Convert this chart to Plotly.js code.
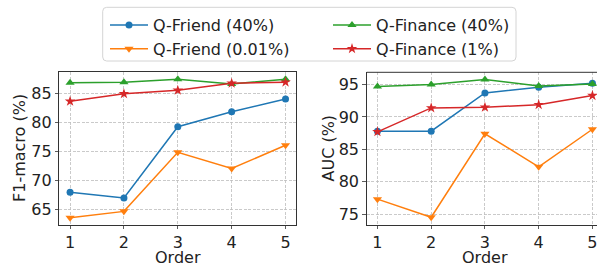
<!DOCTYPE html>
<html>
<head>
<meta charset="utf-8">
<script src="https://cdn.plot.ly/plotly-3.0.1.min.js"></script>
<style>html,body{margin:0;padding:0;background:#fff;}#chart{width:597px;height:263px;}</style>
</head>
<body>
<div id="chart"></div>
<script>
// ---- data ----
const orders = [1, 2, 3, 4, 5];
const seriesNames = ["Q-Friend (40%)", "Q-Friend (0.01%)", "Q-Finance (40%)", "Q-Finance (1%)"];
const f1Friend40 = [67.9, 66.9, 79.2, 81.8, 84.0];
const f1Friend001 = [63.5, 64.6, 74.8, 72.0, 76.0];
const f1Finance40 = [86.8, 86.9, 87.4, 86.6, 87.4];
const f1Finance1 = [83.6, 84.9, 85.5, 86.7, 86.9];
const aucFriend40 = [87.8, 87.8, 93.7, 94.6, 95.2];
const aucFriend001 = [77.3, 74.5, 87.4, 82.3, 88.1];
const aucFinance40 = [94.7, 95.0, 95.8, 94.8, 95.1];
const aucFinance1 = [87.7, 91.4, 91.5, 91.9, 93.3];
const xTicks = [1, 2, 3, 4, 5];
const f1Ticks = [65, 70, 75, 80, 85];
const aucTicks = [75, 80, 85, 90, 95];
const xTitle = "Order";
const f1Title = "F1-macro (%)";
const aucTitle = "AUC (%)";

// ---- styling ----
const W = 597, H = 263;
const colors = ["#1f77b4", "#ff7f0e", "#2ca02c", "#d62728"];
const symbols = ["circle", "triangle-down", "triangle-up", "star"];
const msizes = [7, 8, 8, 8];
const ranks = [1, 3, 2, 4];
const font = "DejaVu Sans, sans-serif";

const f1Data = [f1Friend40, f1Friend001, f1Finance40, f1Finance1];
const aucData = [aucFriend40, aucFriend001, aucFinance40, aucFinance1];

const traces = [];
seriesNames.forEach((name, i) => {
  const common = {
    mode: "lines+markers", name: name, legendgroup: name, legendrank: ranks[i],
    line: {color: colors[i], width: 1.5},
    marker: {color: colors[i], symbol: symbols[i], size: msizes[i], line: {width: 0}},
    cliponaxis: false
  };
  traces.push(Object.assign({x: orders, y: f1Data[i], xaxis: "x", yaxis: "y", showlegend: true}, common));
  traces.push(Object.assign({x: orders, y: aucData[i], xaxis: "x2", yaxis: "y2", showlegend: false}, common));
});

const px = v => v / W;
const py = v => 1 - v / H;

const axBase = {
  showgrid: true, gridcolor: "#bdbdbd", griddash: "3px,1.5px", gridwidth: 0.8,
  showline: true, linecolor: "#333333", linewidth: 1,
  ticks: "outside", ticklen: 3.5, tickwidth: 0.8, tickcolor: "#333333",
  tickfont: {family: font, size: 16, color: "#222"},
  zeroline: false, tickmode: "array", ticklabeloverflow: "allow"
};
const tfont = {family: font, size: 16, color: "#222"};
const yDom = [py(224.7), py(72.3)];
const yMid = (yDom[0] + yDom[1]) / 2;

const titleAnn = (text, x, y, angle, yanchor) => ({
  text: text, xref: "paper", yref: "paper", x: x, y: y, xanchor: "center", yanchor: yanchor,
  textangle: angle, showarrow: false, font: tfont
});

const layout = {
  width: W, height: H,
  margin: {l: 0, r: 0, t: 0, b: 0},
  paper_bgcolor: "#fff", plot_bgcolor: "#fff",
  font: {family: font, size: 16, color: "#222"},
  showlegend: true,
  xaxis: Object.assign({}, axBase, {domain: [px(59.3), px(296.3)], range: [0.8, 5.2], tickvals: xTicks, mirror: true, anchor: "y"}),
  yaxis: Object.assign({}, axBase, {domain: yDom, range: [62.3, 88.6], tickvals: f1Ticks, mirror: true, anchor: "x"}),
  xaxis2: Object.assign({}, axBase, {domain: [px(366.7), 1], range: [0.8, 5.085], tickvals: xTicks, anchor: "y2"}),
  yaxis2: Object.assign({}, axBase, {domain: yDom, range: [73.35, 96.9], tickvals: aucTicks, anchor: "x2"}),
  annotations: [
    titleAnn(xTitle, px(178), py(246), 0, "top"),
    titleAnn(xTitle, px(485.5), py(246), 0, "top"),
    Object.assign(titleAnn(f1Title, px(19.5), yMid, -90, "middle"), {}),
    Object.assign(titleAnn(aucTitle, px(328), yMid, -90, "middle"), {})
  ],
  legend: {
    orientation: "h", x: px(105), y: py(8), xanchor: "left", yanchor: "top",
    bgcolor: "rgba(0,0,0,0)", borderwidth: 0,
    itemwidth: 38,
    entrywidth: 170, entrywidthmode: "pixels",
    font: {family: font, size: 16, color: "#222"},
    traceorder: "normal"
  },
  shapes: [
    {type: "line", xref: "paper", yref: "paper", x0: px(366.7), x1: 1.01, y0: yDom[1], y1: yDom[1],
     line: {color: "#333333", width: 1}},
    (function () {
      const x0 = px(102.7), x1 = px(516), y0 = py(61), y1 = py(7.3), rx = 4 / W, ry = 4 / H;
      const p = `M ${x0 + rx} ${y1} L ${x1 - rx} ${y1} Q ${x1} ${y1} ${x1} ${y1 - ry} L ${x1} ${y0 + ry} Q ${x1} ${y0} ${x1 - rx} ${y0} L ${x0 + rx} ${y0} Q ${x0} ${y0} ${x0} ${y0 + ry} L ${x0} ${y1 - ry} Q ${x0} ${y1} ${x0 + rx} ${y1} Z`;
      return {type: "path", xref: "paper", yref: "paper", path: p, line: {color: "#d4d4d4", width: 1}, fillcolor: "rgba(255,255,255,0.8)", layer: "above"};
    })()
  ]
};

Plotly.newPlot("chart", traces, layout, {staticPlot: true, displayModeBar: false});
</script>
</body>
</html>
